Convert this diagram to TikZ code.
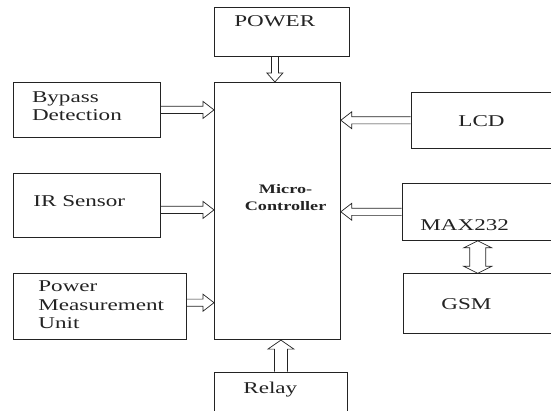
\documentclass[tikz,border=0pt]{standalone}
\usepackage{fontspec}
\setmainfont[FakeStretch=1.4]{Liberation Serif}
\usetikzlibrary{calc}
\definecolor{ink}{RGB}{35,35,35}

\tikzset{
  ashaft/.store in=\ashaft, ahead/.store in=\ahead, alen/.store in=\alen,
  ashaft=3.6pt, ahead=8.5pt, alen=11pt,
  % open block arrow, one head
  hollow/.style={to path={
    ($(\tikztostart)!\ashaft!90:(\tikztotarget)$)
    -- ($(\tikztotarget)!\alen!(\tikztostart)!\ashaft!90:(\tikztotarget)$)
    -- ($(\tikztotarget)!\alen!(\tikztostart)!\ahead!90:(\tikztotarget)$)
    -- (\tikztotarget)
    -- ($(\tikztotarget)!\alen!(\tikztostart)!\ahead!-90:(\tikztotarget)$)
    -- ($(\tikztotarget)!\alen!(\tikztostart)!\ashaft!-90:(\tikztotarget)$)
    -- ($(\tikztostart)!\ashaft!-90:(\tikztotarget)$)}},
  % open block arrow, two heads
  hollowboth/.style={to path={
    (\tikztostart)
    -- ($(\tikztostart)!\alen!(\tikztotarget)!\ahead!90:(\tikztotarget)$)
    -- ($(\tikztostart)!\alen!(\tikztotarget)!\ashaft!90:(\tikztotarget)$)
    -- ($(\tikztotarget)!\alen!(\tikztostart)!\ashaft!90:(\tikztotarget)$)
    -- ($(\tikztotarget)!\alen!(\tikztostart)!\ahead!90:(\tikztotarget)$)
    -- (\tikztotarget)
    -- ($(\tikztotarget)!\alen!(\tikztostart)!\ahead!-90:(\tikztotarget)$)
    -- ($(\tikztotarget)!\alen!(\tikztostart)!\ashaft!-90:(\tikztotarget)$)
    -- ($(\tikztostart)!\alen!(\tikztotarget)!\ashaft!-90:(\tikztotarget)$)
    -- ($(\tikztostart)!\alen!(\tikztotarget)!\ahead!-90:(\tikztotarget)$)
    -- cycle}},
}

\begin{document}
\begin{tikzpicture}[x=1pt, y=-1pt, line width=0.8pt, draw=ink,
    box/.style={draw=ink, anchor=north west, inner sep=0pt},
    txt/.style={anchor=base west, inner sep=0pt, align=left, text=ink,
                font=\fontsize{16.5}{18.5}\selectfont},
    arr/.style={draw=ink, line width=0.7pt}]

  \useasboundingbox (0,0) rectangle (551,410);
  \clip (0,0) rectangle (551,410);

  % blocks
  \node[box, minimum width=126pt, minimum height=257.3pt] (mc)  at (214,82) {};
  \node[box, minimum width=135pt, minimum height=48.7pt]  (pow) at (214,7.3) {};
  \node[box, minimum width=147.4pt, minimum height=55pt]  (byp) at (12.6,82) {};
  \node[box, minimum width=147.4pt, minimum height=63.4pt] (ir) at (12.6,173.3) {};
  \node[box, minimum width=173.4pt, minimum height=66pt]  (pmu) at (12.6,273.3) {};
  \node[box, minimum width=133pt, minimum height=50pt]    (rel) at (214,371.7) {};
  \node[box, minimum width=142.3pt, minimum height=56.3pt] (lcd) at (410.7,91.7) {};
  \node[box, minimum width=151.4pt, minimum height=57.3pt] (max) at (401.6,182.7) {};
  \node[box, minimum width=150pt, minimum height=60pt]    (gsm) at (403,273.3) {};

  % texts (base = last line)
  \node[txt] (powT) at ([shift={(20,19.4)}]pow.north west) {POWER};
  \node[txt] (bypT) at ([shift={(19,38.7)}]byp.north west) {Bypass\\Detection};
  \node[txt] (irT)  at ([shift={(20.4,33.4)}]ir.north west) {IR Sensor};
  \node[txt] (pmuT) at ([shift={(25.4,55.2)}]pmu.north west) {Power\\Measurement\\Unit};
  \node[txt] (relT) at ([shift={(29,21.3)}]rel.north west) {Relay};
  \node[txt] (lcdT) at ([shift={(47.3,35)}]lcd.north west) {LCD};
  \node[txt] (maxT) at ([shift={(18.4,47.3)}]max.north west) {MAX232};
  \node[txt] (gsmT) at ([shift={(38,36)}]gsm.north west) {GSM};
  \node[anchor=base, inner sep=0pt, align=center, text=ink,
        font=\fontsize{13}{16.7}\selectfont\bfseries] (mcT)
        at ([shift={(71.6,128)}]mc.north west) {Micro-\\Controller};

  % links
  \coordinate (pwA) at ([xshift=-7pt]pow.south);
  \coordinate (irA) at ([yshift=-4.5pt]ir.east);
  \coordinate (pmA) at ([yshift=4pt]pmu.east);

  \draw[arr, hollow, ashaft=3.5pt, ahead=8pt, alen=9pt] (pwA) to (pwA |- mc.north);
  \draw[arr, hollow] (byp.east) to (byp.east -| mc.west);
  \draw[arr, hollow] (irA) to (irA -| mc.west);
  \draw[arr, hollow] (pmA) to (pmA -| mc.west);
  \draw[arr, hollow] (lcd.west) to (lcd.west -| mc.east);
  \draw[arr, hollow] (max.west) to (max.west -| mc.east);
  \draw[arr, hollow, ashaft=6.5pt, ahead=13pt, alen=9pt] (rel.north) to (rel.north |- mc.south);
  \draw[arr, hollowboth, ashaft=8pt, ahead=14pt, alen=7pt] (max.south) to (max.south |- gsm.north);
\end{tikzpicture}
\end{document}
